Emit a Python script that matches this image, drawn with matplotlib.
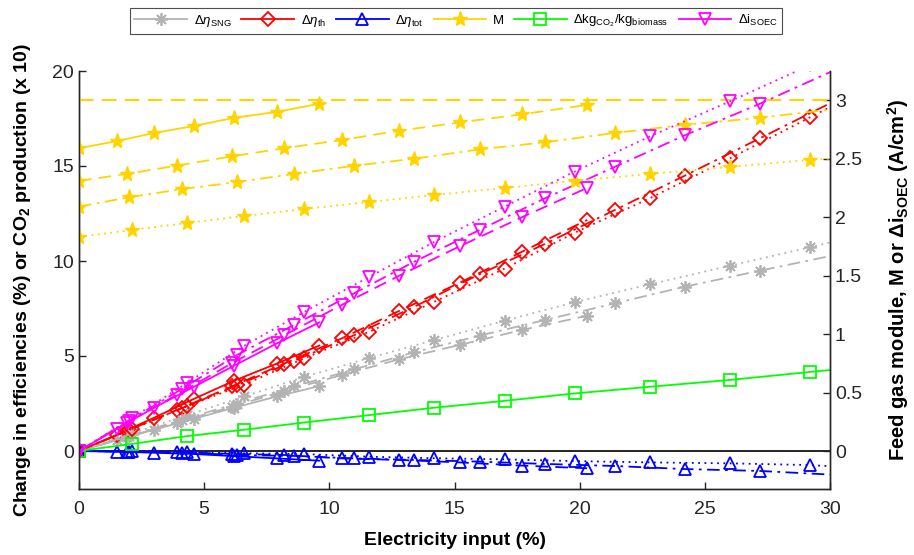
import matplotlib
matplotlib.use("Agg")
import matplotlib.pyplot as plt

plt.rcParams['font.family'] = ['Liberation Sans', 'DejaVu Sans']
plt.rcParams['mathtext.fontset'] = 'custom'
plt.rcParams['mathtext.rm'] = 'Liberation Sans'
plt.rcParams['mathtext.it'] = 'Liberation Sans:italic'
plt.rcParams['mathtext.bf'] = 'Liberation Sans:bold'

# electricity input (%) at the markers of the four cases
x_solid = [0, 1.5, 3.0, 4.6, 6.2, 7.9, 9.6]
x_dash = [0, 1.9, 3.9, 6.1, 8.2, 10.5, 12.8, 15.2, 17.7, 20.3]
x_dashdot = [0, 2.0, 4.1, 6.3, 8.6, 11.0, 13.4, 16.0, 18.6, 21.4, 24.2, 27.2, 30]
x_dot = [0, 2.1, 4.3, 6.6, 9.0, 11.6, 14.2, 17.0, 19.8, 22.8, 26.0, 29.2, 30]

# change in SNG efficiency (%)
sng_solid = [0, 0.56, 1.12, 1.7, 2.28, 2.87, 3.42]
sng_dash = [0, 0.73, 1.5, 2.33, 3.15, 4.0, 4.83, 5.58, 6.37, 7.12]
sng_dashdot = [0, 0.8, 1.64, 2.5, 3.4, 4.3, 5.2, 6.07, 6.89, 7.77, 8.65, 9.49, 10.26]
sng_dot = [0, 0.92, 1.88, 2.87, 3.9, 4.9, 5.84, 6.86, 7.83, 8.77, 9.75, 10.72, 10.98]

# change in thermal efficiency (%)
th_solid = [0, 0.85, 1.75, 2.75, 3.7, 4.6, 5.55]
th_dash = [0, 1.05, 2.15, 3.4, 4.6, 5.93, 7.38, 8.85, 10.49, 12.16]
th_dashdot = [0, 1.1, 2.25, 3.45, 4.75, 6.1, 7.6, 9.3, 10.89, 12.68, 14.49, 16.46, 18.3]
th_dot = [0, 1.15, 2.35, 3.5, 4.88, 6.28, 7.86, 9.6, 11.49, 13.3, 15.4, 17.56, 18.1]

# change in total efficiency (%)
tot_solid = [0, -0.04, -0.09, -0.16, -0.27, -0.39, -0.51]
tot_dash = [0, -0.03, -0.06, -0.15, -0.21, -0.39, -0.47, -0.6, -0.77, -0.91]
tot_dashdot = [0, -0.03, -0.08, -0.21, -0.26, -0.39, -0.47, -0.56, -0.68, -0.79, -0.95, -1.05, -1.24]
tot_dot = [0, -0.02, -0.04, -0.12, -0.16, -0.3, -0.38, -0.44, -0.53, -0.6, -0.65, -0.74, -0.8]

# CO2 production (x 10), given at the x_dot points
co2 = [0, 0.37, 0.78, 1.12, 1.5, 1.89, 2.28, 2.64, 3.03, 3.38, 3.74, 4.16, 4.26]

# feed gas module M (right axis)
m_solid = [2.59, 2.65, 2.72, 2.78, 2.85, 2.9, 2.97]
m_dash = [2.31, 2.37, 2.44, 2.52, 2.59, 2.66, 2.74, 2.81, 2.88, 2.96]
m_dashdot = [2.09, 2.17, 2.24, 2.3, 2.37, 2.44, 2.5, 2.58, 2.64, 2.72, 2.79, 2.85, 2.92]
m_dot = [1.83, 1.89, 1.95, 2.01, 2.07, 2.13, 2.19, 2.25, 2.31, 2.37, 2.43, 2.49, 2.5]
m_target = 3.0

# change in SOEC current density (A/cm2, right axis)
soec_solid = [0, 0.19, 0.37, 0.55, 0.73, 0.92, 1.1]
soec_dash = [0, 0.24, 0.48, 0.75, 0.99, 1.25, 1.5, 1.75, 2.0, 2.25]
soec_dashdot = [0, 0.26, 0.53, 0.82, 1.08, 1.35, 1.62, 1.89, 2.16, 2.43, 2.7, 2.97, 3.24]
soec_dot = [0, 0.28, 0.58, 0.9, 1.19, 1.49, 1.79, 2.09, 2.39, 2.69, 2.99, 3.3, 3.38]

labels = [r'$\Delta\eta_{\mathrm{SNG}}$', r'$\Delta\eta_{\mathrm{th}}$', r'$\Delta\eta_{\mathrm{tot}}$', 'M',
          r'$\Delta\mathrm{kg}_{\mathrm{CO}_2}/\mathrm{kg}_{\mathrm{biomass}}$', r'$\Delta\mathrm{i}_{\mathrm{SOEC}}$']

gray = '#b3b3b3'
red = '#ff0000'
blue = '#0000ff'
yellow = '#ffd400'
green = '#00ff00'
magenta = '#ff00ff'
dark = '#262626'

cases = [(x_solid, '-'), (x_dash, (0, (7, 4))), (x_dashdot, (0, (7, 3, 1.5, 3))), (x_dot, (0, (1, 2.5)))]
last = slice(0, -1)

fig = plt.figure(figsize=(9.14, 5.55), dpi=100)
ax = fig.add_axes([79 / 914, 66 / 555, 751 / 914, 418 / 555])
ax2 = ax.twinx()

ax.axhline(0, color='black', lw=1.2, zorder=1)
ax2.axhline(m_target, color=yellow, lw=1.5, ls=(0, (7, 4)))

handles = []
sng = [sng_solid, sng_dash, sng_dashdot, sng_dot]
th = [th_solid, th_dash, th_dashdot, th_dot]
tot = [tot_solid, tot_dash, tot_dashdot, tot_dot]
mm = [m_solid, m_dash, m_dashdot, m_dot]
soec = [soec_solid, soec_dash, soec_dashdot, soec_dot]

for i, (xs, ls) in enumerate(cases):
    me = last if len(xs) > 10 else None
    h1, = ax.plot(xs, sng[i], color=gray, ls=ls, lw=1.3, marker=(8, 2, 0), ms=9, mew=1.3, markevery=me)
    h2, = ax.plot(xs, th[i], color=red, ls=ls, lw=1.3, marker='D', ms=7, mfc='none', mew=1.3, markevery=me)
    h3, = ax.plot(xs, tot[i], color=blue, ls=ls, lw=1.3, marker='^', ms=9, mfc='none', mew=1.3, markevery=me)
    h4, = ax2.plot(xs, mm[i], color=yellow, ls=ls, lw=1.3, marker='*', ms=11, mew=1, markevery=me)
    h6, = ax2.plot(xs, soec[i], color=magenta, ls=ls, lw=1.3, marker='v', ms=9, mfc='none', mew=1.3, markevery=me)
    if i == 0:
        handles = [h1, h2, h3, h4, None, h6]

h5, = ax.plot(x_dot, co2, color=green, lw=1.3, marker='s', ms=9, mfc='none', mew=1.3, markevery=last)
handles[4] = h5

ax.set_xlim(0, 30)
ax.set_ylim(-2, 20)
ax2.set_ylim(-0.325, 3.25)
ax.set_xticks([0, 5, 10, 15, 20, 25, 30])
ax.set_yticks([0, 5, 10, 15, 20])
ax2.set_yticks([0, 0.5, 1, 1.5, 2, 2.5, 3])
ax2.set_yticklabels(['0', '0.5', '1', '1.5', '2', '2.5', '3'])

for a in (ax, ax2):
    a.spines['top'].set_visible(False)
    for s in a.spines.values():
        s.set_color(dark)
        s.set_linewidth(1.0)
    a.tick_params(direction='in', length=5, width=1, labelsize=14, colors=dark)
ax.tick_params(axis='x', pad=9)

ax.set_xlabel('Electricity input (%)', fontsize=14, fontweight='bold', labelpad=10)
ax.set_ylabel(r'Change in efficiencies (%) or CO$_\mathbf{2}$ production (x 10)', fontsize=14,
              fontweight='bold', labelpad=14)
ax2.set_ylabel(r'Feed gas module, M or $\mathbf{\Delta i_{SOEC}}$ (A/cm$^\mathbf{2}$)', fontsize=14.5,
               fontweight='bold', labelpad=17)

leg = fig.legend(handles, labels, loc='upper center', bbox_to_anchor=(456 / 914, 1 - 8 / 555), ncol=6,
                 fontsize=9.5, handlelength=4.0, columnspacing=0.75, handletextpad=0.5,
                 fancybox=False, edgecolor='#4d4d4d', framealpha=1, borderpad=0.35, borderaxespad=0)
leg.get_frame().set_linewidth(0.8)

fig.savefig('out.png', dpi=100)
